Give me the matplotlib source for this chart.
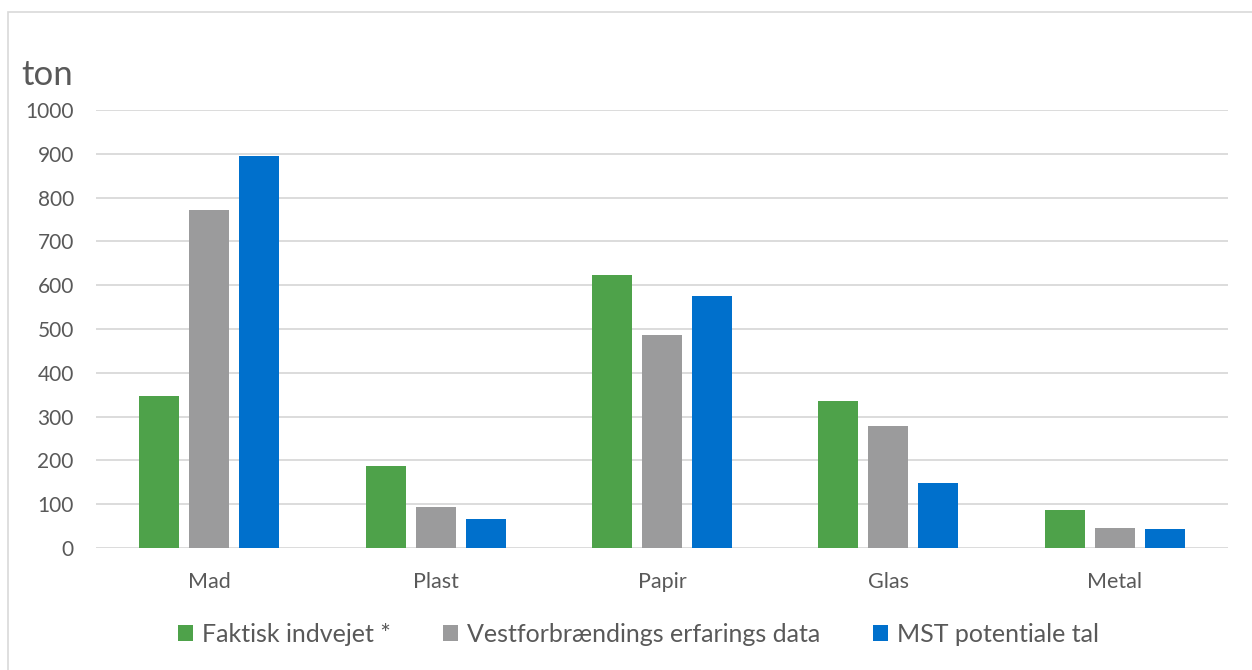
import numpy as np
import matplotlib.pyplot as plt
from matplotlib.patches import Rectangle

plt.rcParams['font.family'] = ['Lato', 'DejaVu Sans']

categories = ['Mad', 'Plast', 'Papir', 'Glas', 'Metal']
faktisk = [347, 187, 623, 336, 87]
vestforbraending = [772, 94, 486, 279, 46]
mst = [895, 66, 575, 148, 43]

series = [
    ('Faktisk indvejet *', faktisk, '#4EA24A'),
    ('Vestforbrændings erfarings data', vestforbraending, '#9B9B9C'),
    ('MST potentiale tal', mst, '#0070CC'),
]

txt = '#595959'

fig = plt.figure(figsize=(12.52, 6.70), dpi=100)
ax = fig.add_axes([96 / 1252, 1 - 548 / 670, (1228 - 96) / 1252, (548 - 110) / 670])

# outer chart frame
fig.patches.append(Rectangle((8 / 1252, -0.1), 1.2, 1 - 12 / 670 + 0.1,
                             transform=fig.transFigure, fill=False,
                             edgecolor='#D9D9D9', linewidth=1.2))

x = np.arange(len(categories))
step = 50 / 226.5
width = 40 / 226.5
handles = []
for i, (name, vals, col) in enumerate(series):
    b = ax.bar(x + (i - 1) * step, vals, width, color=col, label=name, zorder=3)
    handles.append(b)

ax.set_xlim(-0.5, len(categories) - 0.5)
ax.set_ylim(0, 1000)
ax.set_yticks(np.arange(0, 1001, 100))
ax.set_xticks(x)
ax.set_xticklabels(categories)
ax.yaxis.grid(True, color='#D9D9D9', linewidth=1.3, zorder=0)
for s in ax.spines.values():
    s.set_visible(False)
ax.tick_params(axis='both', length=0, labelcolor=txt)
ax.tick_params(axis='y', pad=16, labelsize=15)
ax.tick_params(axis='x', pad=17, labelsize=15.5)

fig.text(21 / 1252, 1 - 75 / 670, 'ton', fontsize=25, color=txt, va='center', ha='left')

fig.legend(handles=handles, loc='center', bbox_to_anchor=(0.51, 1 - 634 / 670),
           ncol=3, frameon=False, fontsize=18, labelcolor=txt,
           handlelength=0.6, handleheight=0.6, handletextpad=0.35,
           columnspacing=2.1)

fig.savefig('out.png', dpi=100)
